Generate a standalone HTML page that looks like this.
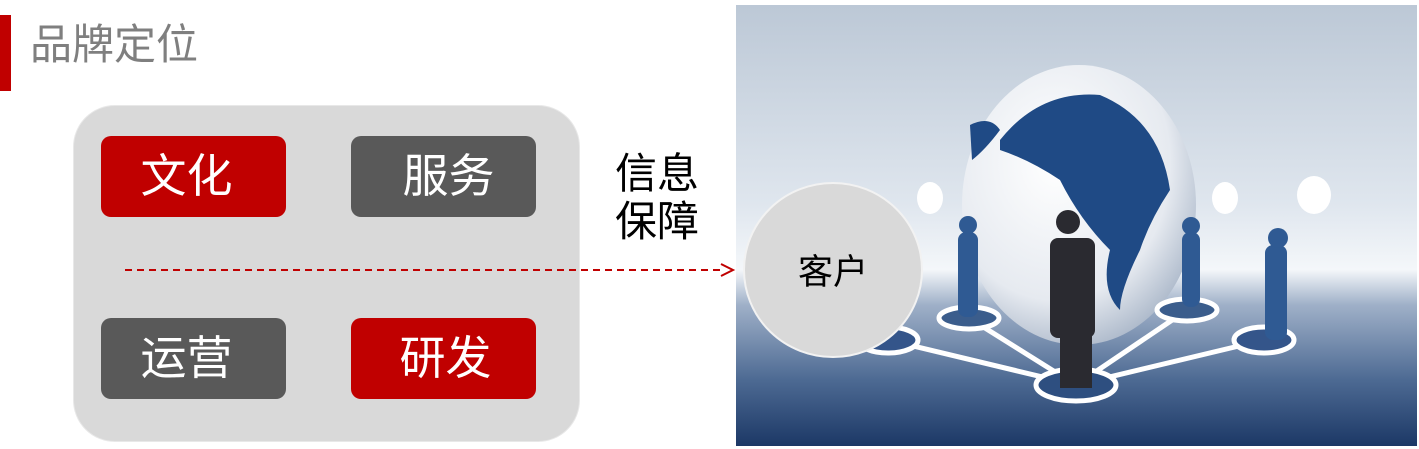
<!DOCTYPE html>
<html><head><meta charset="utf-8"><style>
body{margin:0;width:1419px;height:449px;background:#fff;position:relative;overflow:hidden;font-family:"Liberation Sans","Noto Sans CJK SC",sans-serif}
.a{position:absolute}
.b{position:absolute;width:185px;height:81px;border-radius:10px;color:#fff;font-size:46px;line-height:81px;text-align:center;text-indent:-14px}
</style></head><body>
<div class="a" style="left:0;top:15px;width:11px;height:76px;background:#c00000"></div>
<div class="a" style="left:30px;top:20px;font-size:42px;color:#7f7f7f;line-height:50px">品牌定位</div>
<div class="a" style="left:73px;top:105px;width:505px;height:335px;border-radius:42px;background:#d9d9d9;border:1px solid #e8e8e8"></div>
<div class="b" style="left:101px;top:136px;background:#c00000">文化</div>
<div class="b" style="left:351px;top:136px;background:#595959;text-indent:10px">服务</div>
<div class="b" style="left:101px;top:318px;background:#595959">运营</div>
<div class="b" style="left:351px;top:318px;background:#c00000;text-indent:4px">研发</div>
<div class="a" style="left:615px;top:150px;font-size:42px;line-height:48px;color:#000">信息<br>保障</div>
<svg class="a" style="left:0;top:0" width="1419" height="449">
<defs>
<linearGradient id="bg" x1="0" y1="0" x2="0" y2="1">
<stop offset="0" stop-color="#bcc8d6"/><stop offset="0.45" stop-color="#dfe6ee"/><stop offset="0.6" stop-color="#f4f7fa"/><stop offset="0.68" stop-color="#9fb0c8"/><stop offset="0.85" stop-color="#4d6a93"/><stop offset="1" stop-color="#1c3866"/>
</linearGradient>
<radialGradient id="gl" cx="0.4" cy="0.35" r="0.7"><stop offset="0" stop-color="#fff"/><stop offset="0.7" stop-color="#e6eaf0"/><stop offset="1" stop-color="#a9b6c8"/></radialGradient>
</defs>
<rect x="736" y="5" width="681" height="441" fill="url(#bg)"/>
<ellipse cx="1079" cy="205" rx="117" ry="140" fill="url(#gl)"/>
<path d="M1000 140 Q1040 90 1100 95 Q1160 120 1170 190 Q1150 220 1140 250 Q1120 290 1120 310 Q1100 290 1110 250 Q1080 220 1060 180 Q1030 160 1000 150Z" fill="#1f4a85"/>
<path d="M970 125 Q990 115 1000 130 Q985 150 972 160Z" fill="#1f4a85"/>
<g stroke="#fff" stroke-width="5" fill="none">
<line x1="1076" y1="385" x2="969" y2="318"/><line x1="1076" y1="385" x2="888" y2="340"/><line x1="1076" y1="385" x2="1187" y2="310"/><line x1="1076" y1="385" x2="1264" y2="340"/>
<ellipse cx="1076" cy="385" rx="40" ry="16" fill="#2e4f80"/>
<ellipse cx="969" cy="318" rx="30" ry="11" fill="#3b5d8c"/><ellipse cx="1187" cy="310" rx="30" ry="11" fill="#3b5d8c"/><ellipse cx="1264" cy="340" rx="30" ry="13" fill="#34558a"/><ellipse cx="888" cy="340" rx="30" ry="13" fill="#34558a"/>
</g>
<g fill="#2f5a93">
<rect x="958" y="232" width="20" height="85" rx="8"/><circle cx="968" cy="225" r="9"/>
<rect x="1182" y="232" width="18" height="75" rx="8"/><circle cx="1191" cy="226" r="9"/>
<rect x="1265" y="245" width="22" height="95" rx="8"/><circle cx="1278" cy="238" r="10"/>
</g>
<g fill="#fff"><ellipse cx="930" cy="198" rx="13" ry="16"/><ellipse cx="1225" cy="198" rx="13" ry="16"/><ellipse cx="1314" cy="195" rx="17" ry="19"/></g>
<g fill="#2a2a30"><rect x="1050" y="238" width="45" height="100" rx="8"/><rect x="1060" y="330" width="32" height="58"/><circle cx="1068" cy="222" r="12"/></g>
<ellipse cx="833" cy="270" rx="89" ry="87" fill="#d9d9d9" stroke="#f2f2f2" stroke-width="2"/>
<text x="833" y="284" font-size="35" text-anchor="middle" fill="#000" font-family="Liberation Sans,Noto Sans CJK SC,sans-serif">客户</text>
<line x1="125" y1="270" x2="722" y2="270" stroke="#c00000" stroke-width="2" stroke-dasharray="7,5"/>
<path d="M721 264 L733 270 L721 276" fill="none" stroke="#c00000" stroke-width="2"/>
</svg>
</body></html>
